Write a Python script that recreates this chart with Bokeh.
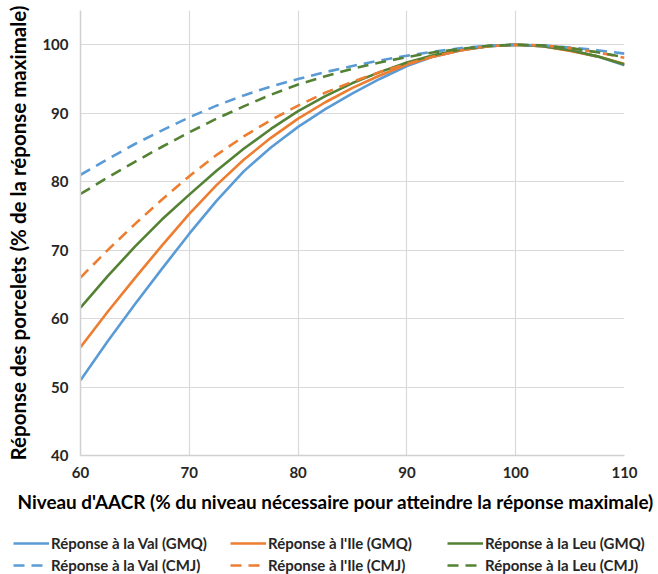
from bokeh.plotting import figure
from bokeh.models import Range1d, FixedTicker, Legend, LegendItem, Title
from bokeh.layouts import column
from bokeh.embed import file_html
from bokeh.resources import INLINE

# ---- data ----
x_levels = [60, 62.5, 65, 67.5, 70, 72.5, 75, 77.5, 80, 82.5, 85, 87.5, 90,
            92.5, 95, 97.5, 100, 102.5, 105, 107.5, 110]
val_gmq = [51.0, 56.7, 62.1, 67.3, 72.4, 77.2, 81.5, 85.0, 88.0, 90.6, 92.9, 95.0, 96.9,
           98.3, 99.2, 99.8, 100.0, 99.8, 99.2, 98.3, 97.0]
ile_gmq = [55.8, 61.0, 65.9, 70.7, 75.3, 79.5, 83.2, 86.4, 89.2, 91.6, 93.7, 95.5, 97.1,
           98.3, 99.2, 99.8, 100.0, 99.8, 99.1, 98.3, 97.2]
leu_gmq = [61.6, 66.2, 70.5, 74.5, 78.1, 81.6, 84.8, 87.7, 90.3, 92.5, 94.4, 96.0, 97.4,
           98.5, 99.3, 99.8, 100.0, 99.8, 99.2, 98.3, 97.1]
val_cmj = [81.0, 83.3, 85.5, 87.5, 89.4, 91.1, 92.6, 93.9, 95.0, 96.0, 96.9, 97.7, 98.4,
           99.0, 99.5, 99.85, 100.0, 99.9, 99.6, 99.2, 98.7]
ile_cmj = [66.0, 70.0, 73.8, 77.4, 80.8, 83.9, 86.6, 89.0, 91.1, 93.0, 94.6, 96.0, 97.2,
           98.3, 99.2, 99.8, 100.0, 99.9, 99.5, 98.9, 98.1]
leu_cmj = [78.2, 80.6, 82.9, 85.1, 87.2, 89.2, 91.0, 92.7, 94.2, 95.4, 96.5, 97.4, 98.2,
           98.9, 99.4, 99.85, 100.0, 99.9, 99.5, 98.9, 98.2]

series_names = ["Réponse à la Val (GMQ)", "Réponse à l'Ile (GMQ)", "Réponse à la Leu (GMQ)",
                "Réponse à la Val (CMJ)", "Réponse à l'Ile (CMJ)", "Réponse à la Leu (CMJ)"]
series_values = [val_gmq, ile_gmq, leu_gmq, val_cmj, ile_cmj, leu_cmj]
series_colors = ["#5B9BD5", "#ED7D31", "#548235", "#5B9BD5", "#ED7D31", "#548235"]
series_dash = ["solid", "solid", "solid", "11 7", "11 7", "11 7"]
# legend is filled column by column: (GMQ, CMJ) pairs per column
legend_order = [0, 3, 1, 4, 2, 5]

x_ticks = [60, 70, 80, 90, 100, 110]
y_ticks = [40, 50, 60, 70, 80, 90, 100]
x_title = "Niveau d'AACR (% du niveau nécessaire pour atteindre la réponse maximale)"
y_title = "Réponse des porcelets (% de la réponse maximale)"

FONT = "Lato"
W = 658
MAIN_H = 487
LEG_H = 574 - MAIN_H

p = figure(width=W, height=MAIN_H, output_backend="svg", toolbar_location=None,
           x_range=Range1d(60, 110), y_range=Range1d(40, 105),
           min_border_left=80, min_border_right=34, min_border_top=10,
           min_border_bottom=MAIN_H - 455)
p.frame_align = False
p.outline_line_color = None
p.background_fill_color = "white"
p.border_fill_color = "white"

p.xgrid.ticker = FixedTicker(ticks=x_ticks)
p.ygrid.ticker = FixedTicker(ticks=y_ticks)
p.xgrid.grid_line_color = "#d9d9d9"
p.ygrid.grid_line_color = "#d9d9d9"
p.xgrid.grid_line_width = 1.2
p.ygrid.grid_line_width = 1.2

for ax in (p.xaxis[0], p.yaxis[0]):
    ax.axis_line_color = "#d0d0d0"
    ax.axis_line_width = 1.5
    ax.major_tick_line_color = None
    ax.minor_tick_line_color = None
    ax.major_tick_out = 0
    ax.major_tick_in = 0
    ax.major_label_text_font = FONT
    ax.major_label_text_font_style = "bold"
    ax.major_label_text_font_size = "15px"
    ax.major_label_text_color = "#262626"
p.xaxis.ticker = FixedTicker(ticks=x_ticks)
p.yaxis.ticker = FixedTicker(ticks=y_ticks)
p.xaxis.major_label_standoff = 11
p.yaxis.major_label_standoff = 12

p.yaxis.axis_label = y_title
p.yaxis.axis_label_text_font = FONT
p.yaxis.axis_label_text_font_style = "bold"
p.yaxis.axis_label_text_font_size = "20.5px"
p.yaxis.axis_label_text_color = "#000000"
p.yaxis.axis_label_standoff = 9

for name, vals, col, dash in zip(series_names, series_values, series_colors, series_dash):
    p.line(x_levels, vals, line_color=col, line_width=2.6, line_dash=dash, line_join="round")

# ---- legend strip with the x-axis title (no axes, frame spans full width) ----
q = figure(width=W, height=LEG_H, output_backend="svg", toolbar_location=None,
           x_range=Range1d(0, 1), y_range=Range1d(0, 1),
           x_axis_location=None, y_axis_location=None,
           min_border_left=0, min_border_right=0, min_border_top=0, min_border_bottom=0)
q.frame_align = False
q.grid.grid_line_color = None
q.outline_line_color = None
q.background_fill_color = "white"
q.border_fill_color = "white"
q.title = Title(text=x_title, align="left", offset=17, text_font=FONT,
                text_font_style="bold", text_font_size="18.9px", text_color="#000000",
                standoff=0)

# same series drawn in the strip (outside its 0..1 ranges), used only for legend glyphs
legend_renderers = []
for name, vals, col, dash in zip(series_names, series_values, series_colors, series_dash):
    r = q.line(x_levels, vals, line_color=col, line_width=2.6, line_dash=dash)
    legend_renderers.append((name, r))

items = [LegendItem(label=legend_renderers[i][0], renderers=[legend_renderers[i][1]])
         for i in legend_order]
legend = Legend(items=items, ncols=3, location=(13, -1),
                glyph_width=36, glyph_height=20, label_standoff=2, spacing=2,
                label_height=20, label_width=177, padding=0, margin=0,
                background_fill_alpha=0, border_line_color=None,
                label_text_font=FONT, label_text_font_size="15px",
                label_text_font_style="bold", label_text_color="#262626")
q.add_layout(legend, "center")

layout = column(p, q, spacing=0)
open("out.html", "w").write(file_html(layout, INLINE))
